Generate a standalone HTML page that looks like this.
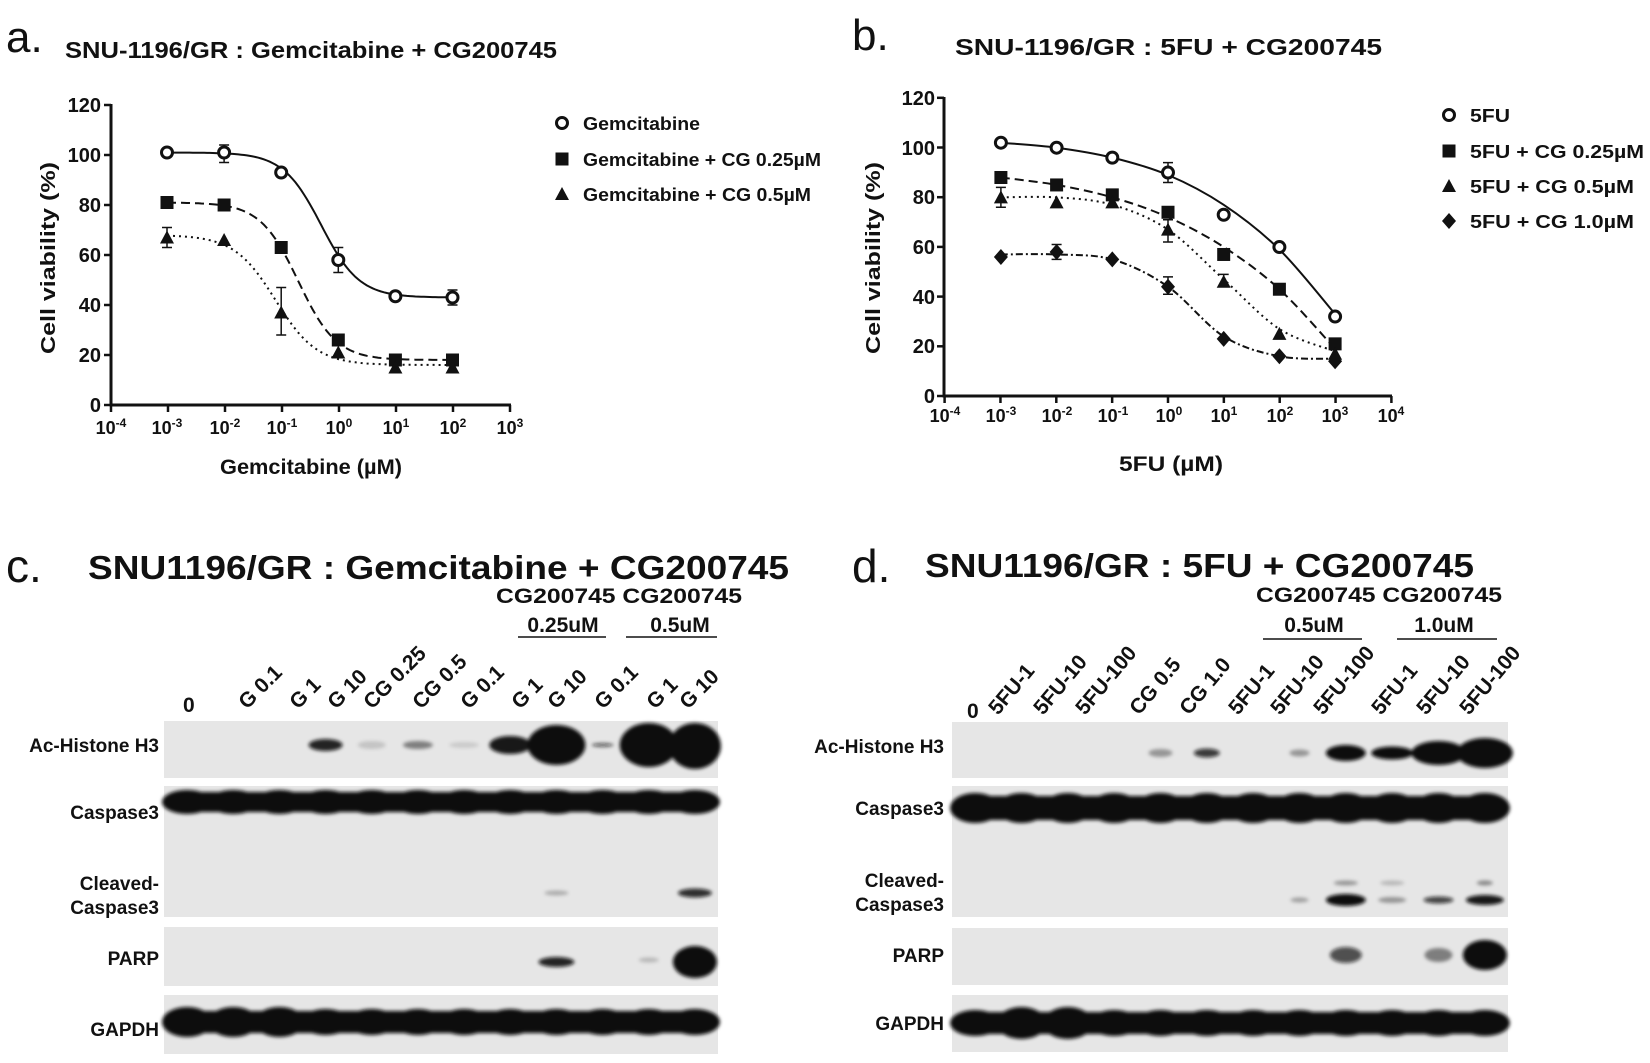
<!DOCTYPE html>
<html><head><meta charset="utf-8"><style>
html,body{margin:0;padding:0;background:#fff}
svg{display:block}
.b{font-family:"Liberation Sans Narrow","Liberation Sans",sans-serif;font-weight:bold;fill:#111}
.w{font-family:"Liberation Sans",sans-serif;font-weight:bold;fill:#111}
.L{font-family:"Liberation Sans",sans-serif;font-weight:normal;fill:#111}
</style></head><body>
<svg id="s" width="1650" height="1063" viewBox="0 0 1650 1063" xmlns="http://www.w3.org/2000/svg">
<defs><filter id="bl" x="-50%" y="-50%" width="200%" height="200%"><feGaussianBlur stdDeviation="1.8"/></filter></defs>
<!-- Panel a -->
<text class="L" x="6" y="52" font-size="44">a.</text>
<text class="b" x="65" y="58" font-size="23" textLength="492" lengthAdjust="spacingAndGlyphs">SNU-1196/GR : Gemcitabine + CG200745</text>
<g stroke="#111" stroke-width="3" fill="none">
<path d="M111,104 V405 H511"/>
</g>
<g id="ga"></g>
<g class="b" font-size="20" text-anchor="end">
<text x="101" y="112">120</text><text x="101" y="162">100</text><text x="101" y="212">80</text><text x="101" y="262">60</text><text x="101" y="312">40</text><text x="101" y="362">20</text><text x="101" y="412">0</text>
</g>
<g class="b" font-size="18" text-anchor="middle">
<text x="111" y="434">10<tspan dy="-7" font-size="12">-4</tspan></text>
<text x="167" y="434">10<tspan dy="-7" font-size="12">-3</tspan></text>
<text x="225" y="434">10<tspan dy="-7" font-size="12">-2</tspan></text>
<text x="282" y="434">10<tspan dy="-7" font-size="12">-1</tspan></text>
<text x="339" y="434">10<tspan dy="-7" font-size="12">0</tspan></text>
<text x="396" y="434">10<tspan dy="-7" font-size="12">1</tspan></text>
<text x="453" y="434">10<tspan dy="-7" font-size="12">2</tspan></text>
<text x="510" y="434">10<tspan dy="-7" font-size="12">3</tspan></text>
</g>
<text class="w" font-size="20" text-anchor="middle" transform="translate(55,258) rotate(-90)" textLength="192" lengthAdjust="spacingAndGlyphs">Cell viability (%)</text>
<text class="b" x="311" y="474" font-size="21" text-anchor="middle" textLength="182" lengthAdjust="spacingAndGlyphs">Gemcitabine (µM)</text>
<g class="b" font-size="18">
<text x="583" y="130" textLength="117" lengthAdjust="spacingAndGlyphs">Gemcitabine</text>
<text x="583" y="166" textLength="238" lengthAdjust="spacingAndGlyphs">Gemcitabine + CG 0.25µM</text>
<text x="583" y="201" textLength="228" lengthAdjust="spacingAndGlyphs">Gemcitabine + CG 0.5µM</text>
</g>
<!-- Panel b -->
<text class="L" x="852" y="50" font-size="44">b.</text>
<text class="b" x="955" y="55" font-size="23" textLength="427" lengthAdjust="spacingAndGlyphs">SNU-1196/GR : 5FU + CG200745</text>
<g stroke="#111" stroke-width="3" fill="none"><path d="M944,97 V396 H1392"/></g>
<g id="gb"></g>
<g class="b" font-size="20" text-anchor="end">
<text x="935" y="105">120</text><text x="935" y="155">100</text><text x="935" y="204">80</text><text x="935" y="254">60</text><text x="935" y="304">40</text><text x="935" y="353">20</text><text x="935" y="403">0</text>
</g>
<g class="b" font-size="18" text-anchor="middle">
<text x="945" y="422">10<tspan dy="-7" font-size="12">-4</tspan></text>
<text x="1001" y="422">10<tspan dy="-7" font-size="12">-3</tspan></text>
<text x="1057" y="422">10<tspan dy="-7" font-size="12">-2</tspan></text>
<text x="1113" y="422">10<tspan dy="-7" font-size="12">-1</tspan></text>
<text x="1169" y="422">10<tspan dy="-7" font-size="12">0</tspan></text>
<text x="1224" y="422">10<tspan dy="-7" font-size="12">1</tspan></text>
<text x="1280" y="422">10<tspan dy="-7" font-size="12">2</tspan></text>
<text x="1335" y="422">10<tspan dy="-7" font-size="12">3</tspan></text>
<text x="1391" y="422">10<tspan dy="-7" font-size="12">4</tspan></text>
</g>
<text class="w" font-size="20" text-anchor="middle" transform="translate(880,258) rotate(-90)" textLength="192" lengthAdjust="spacingAndGlyphs">Cell viability (%)</text>
<text class="b" x="1171" y="471" font-size="21" text-anchor="middle" textLength="104" lengthAdjust="spacingAndGlyphs">5FU (µM)</text>
<g class="b" font-size="18">
<text x="1470" y="122" textLength="40" lengthAdjust="spacingAndGlyphs">5FU</text>
<text x="1470" y="158" textLength="174" lengthAdjust="spacingAndGlyphs">5FU + CG 0.25µM</text>
<text x="1470" y="193" textLength="164" lengthAdjust="spacingAndGlyphs">5FU + CG 0.5µM</text>
<text x="1470" y="228" textLength="164" lengthAdjust="spacingAndGlyphs">5FU + CG 1.0µM</text>
</g>
<!-- Panel c -->
<text class="L" x="6" y="582" font-size="46">c.</text>
<text class="w" x="88" y="579" font-size="33" textLength="701" lengthAdjust="spacingAndGlyphs">SNU1196/GR : Gemcitabine + CG200745</text>
<text class="b" x="496" y="603" font-size="21" textLength="246" lengthAdjust="spacingAndGlyphs">CG200745 CG200745</text>
<text class="b" x="563" y="632" font-size="21" text-anchor="middle">0.25uM</text>
<text class="b" x="680" y="632" font-size="21" text-anchor="middle">0.5uM</text>
<path d="M518,637 H606 M626,637 H717" stroke="#111" stroke-width="1.5"/>
<g class="b" font-size="21">
<text x="183" y="712">0</text>
<text transform="translate(247,710) rotate(-45)">G 0.1</text>
<text transform="translate(298,710) rotate(-45)">G 1</text>
<text transform="translate(336,710) rotate(-45)">G 10</text>
<text transform="translate(372,710) rotate(-45)">CG 0.25</text>
<text transform="translate(421,710) rotate(-45)">CG 0.5</text>
<text transform="translate(469,710) rotate(-45)">G 0.1</text>
<text transform="translate(520,710) rotate(-45)">G 1</text>
<text transform="translate(556,710) rotate(-45)">G 10</text>
<text transform="translate(603,710) rotate(-45)">G 0.1</text>
<text transform="translate(655,710) rotate(-45)">G 1</text>
<text transform="translate(688,710) rotate(-45)">G 10</text>
</g>
<g class="b" font-size="19" text-anchor="end">
<text x="159" y="752">Ac-Histone H3</text>
<text x="159" y="819">Caspase3</text>
<text x="159" y="890">Cleaved-</text>
<text x="159" y="914">Caspase3</text>
<text x="159" y="965">PARP</text>
<text x="159" y="1036">GAPDH</text>
</g>
<g id="gc"></g>
<!-- Panel d -->
<text class="L" x="852" y="582" font-size="46">d.</text>
<text class="w" x="925" y="577" font-size="33" textLength="549" lengthAdjust="spacingAndGlyphs">SNU1196/GR : 5FU + CG200745</text>
<text class="b" x="1256" y="602" font-size="21" textLength="246" lengthAdjust="spacingAndGlyphs">CG200745 CG200745</text>
<text class="b" x="1314" y="632" font-size="21" text-anchor="middle">0.5uM</text>
<text class="b" x="1444" y="632" font-size="21" text-anchor="middle">1.0uM</text>
<path d="M1263,639 H1362 M1397,639 H1497" stroke="#111" stroke-width="1.5"/>
<g class="b" font-size="21">
<text x="967" y="718">0</text>
<text transform="translate(998,716) rotate(-50)">5FU-1</text>
<text transform="translate(1043,716) rotate(-50)">5FU-10</text>
<text transform="translate(1085,716) rotate(-50)">5FU-100</text>
<text transform="translate(1139,716) rotate(-50)">CG 0.5</text>
<text transform="translate(1189,716) rotate(-50)">CG 1.0</text>
<text transform="translate(1238,716) rotate(-50)">5FU-1</text>
<text transform="translate(1280,716) rotate(-50)">5FU-10</text>
<text transform="translate(1323,716) rotate(-50)">5FU-100</text>
<text transform="translate(1381,716) rotate(-50)">5FU-1</text>
<text transform="translate(1426,716) rotate(-50)">5FU-10</text>
<text transform="translate(1469,716) rotate(-50)">5FU-100</text>
</g>
<g class="b" font-size="19" text-anchor="end">
<text x="944" y="753">Ac-Histone H3</text>
<text x="944" y="815">Caspase3</text>
<text x="944" y="887">Cleaved-</text>
<text x="944" y="911">Caspase3</text>
<text x="944" y="962">PARP</text>
<text x="944" y="1030">GAPDH</text>
</g>
<g id="gd"></g>
</svg>
<script>
var NS="http://www.w3.org/2000/svg";
function el(p,t,a){var e=document.createElementNS(NS,t);for(var k in a)e.setAttribute(k,a[k]);p.appendChild(e);return e;}
function marker(g,type,x,y){
 if(type=="o")el(g,"circle",{cx:x,cy:y,r:5.5,fill:"#fff",stroke:"#111","stroke-width":3});
 else if(type=="s")el(g,"rect",{x:x-6.5,y:y-6.5,width:13,height:13,fill:"#111"});
 else if(type=="t")el(g,"path",{d:"M"+x+","+(y-7)+" L"+(x+7)+","+(y+6)+" L"+(x-7)+","+(y+6)+"Z",fill:"#111"});
 else el(g,"path",{d:"M"+x+","+(y-8)+" L"+(x+7)+","+y+" L"+x+","+(y+8)+" L"+(x-7)+","+y+"Z",fill:"#111"});
}
function err(g,x,y1,y2){el(g,"path",{d:"M"+x+","+y1+"V"+y2+"M"+(x-5)+","+y1+"H"+(x+5)+"M"+(x-5)+","+y2+"H"+(x+5),stroke:"#111","stroke-width":1.5,fill:"none"});}
var dash={o:"",s:"9,5",t:"2,4",d:"7,3,2,3"};
var ga=document.getElementById("ga");
function XA(l){return 167+(l+3)*57.1}function YA(v){return 405-v*2.5}
for(var i=0;i<8;i++){var x=111+i*57.0;el(ga,"line",{x1:x,y1:405,x2:x,y2:412,stroke:"#111","stroke-width":2.5});}
for(var i=0;i<7;i++){var y=405-i*50;el(ga,"line",{x1:104,y1:y,x2:111,y2:y,stroke:"#111","stroke-width":2.5});}
var fa=[["o",101,43,-0.3,1.3],["s",81,18,-0.7,1.3],["t",68,16,-1.1,1.2]];
fa.forEach(function(f){var d="";for(var l=-3;l<=2.001;l+=0.05){var v=f[2]+(f[1]-f[2])/(1+Math.pow(10,(l-f[3])*f[4]));d+=(d?"L":"M")+XA(l).toFixed(1)+","+YA(v).toFixed(1);}
 el(ga,"path",{d:d,fill:"none",stroke:"#111","stroke-width":2,"stroke-dasharray":dash[f[0]]});});
var da={o:[101,101,93,58,43.5,43],s:[81,80,63,26,18,18],t:[67,66,37,21,15,15]};
err(ga,XA(-3),YA(71),YA(63));err(ga,XA(-1),YA(47),YA(28));err(ga,XA(-2),YA(104),YA(97));err(ga,XA(0),YA(63),YA(53));err(ga,XA(2),YA(46),YA(40));
for(var k in da)da[k].forEach(function(v,i){marker(ga,k,XA(i-3),YA(v));});
marker(ga,"o",562,123);marker(ga,"s",562,159);marker(ga,"t",562,194);
var gb=document.getElementById("gb");
function XB(l){return 1000.9+(l+3)*55.7}function YB(v){return 396-v*2.483}
for(var i=0;i<9;i++){var x=944.6+i*55.85;el(gb,"line",{x1:x,y1:396,x2:x,y2:403,stroke:"#111","stroke-width":2.5});}
for(var i=0;i<7;i++){var y=396-i*49.7;el(gb,"line",{x1:937,y1:y,x2:944,y2:y,stroke:"#111","stroke-width":2.5});}
function cr(pts){var d="M"+pts[0][0]+","+pts[0][1];for(var i=0;i<pts.length-1;i++){var p0=pts[Math.max(0,i-1)],p1=pts[i],p2=pts[i+1],p3=pts[Math.min(pts.length-1,i+2)];
 d+="C"+(p1[0]+(p2[0]-p0[0])/6).toFixed(1)+","+(p1[1]+(p2[1]-p0[1])/6).toFixed(1)+" "+(p2[0]-(p3[0]-p1[0])/6).toFixed(1)+","+(p2[1]-(p3[1]-p1[1])/6).toFixed(1)+" "+p2[0].toFixed(1)+","+p2[1].toFixed(1);}return d;}
var cb={o:[102,100,96,89,77,59,33],s:[88,85,80,72,60,43,19],t:[80,80,77,67,47,27,18],d:[57,57,55,44,24,16,15]};
for(var k in cb){var pts=cb[k].map(function(v,i){return[XB(i-3),YB(v)]});el(gb,"path",{d:cr(pts),fill:"none",stroke:"#111","stroke-width":2,"stroke-dasharray":dash[k]});}
var db={o:[102,100,96,90,73,60,32],s:[88,85,81,74,57,43,21],t:[80,78,78,67,46,25,17],d:[56,58,55,44,23,16,14]};
err(gb,XB(0),YB(94),YB(86));err(gb,XB(-3),YB(84),YB(76));err(gb,XB(0),YB(71),YB(62));err(gb,XB(0),YB(48),YB(41));err(gb,XB(1),YB(49),YB(44));err(gb,XB(-2),YB(61),YB(55));
for(var k in db)db[k].forEach(function(v,i){marker(gb,k,XB(i-3),YB(v));});
marker(gb,"o",1449,115);marker(gb,"s",1449,151);marker(gb,"t",1449,186);marker(gb,"d",1449,221);
function blot(g,x0,x1,strips,bands,rows){var w=(x1-x0)/12;
 strips.forEach(function(s){el(g,"rect",{x:x0,y:s[0],width:x1-x0,height:s[1]-s[0],fill:"#e6e6e6"});});
 var bg=el(g,"g",{filter:"url(#bl)"});
 rows.forEach(function(r){el(bg,"rect",{x:x0+4,y:r[0]-r[1]/2,width:x1-x0-8,height:r[1],rx:r[1]/2,fill:"#0d0d0d"});});
 bands.forEach(function(b){el(bg,"ellipse",{cx:x0+w*(b[0]+0.5),cy:b[1],rx:b[2]/2,ry:b[3]/2,fill:"#0d0d0d","fill-opacity":b[4]});});}
var bc=[],bd=[];
for(var i=0;i<12;i++){bc.push([i,802,50,24,1]);bc.push([i,1022,50,i<3?30:26,1]);bd.push([i,808,50,30,1]);bd.push([i,1023,50,(i==1||i==2)?32:26,1]);}
bc=bc.concat([[3,745,34,12,.9],[4,745,28,8,.15],[5,745,30,8,.45],[6,745,30,6,.12],[7,745,42,18,.95],[8,745,58,40,1],[9,745,22,4,.6],[10,745,58,44,1],[11,746,52,46,1],
 [8,893,24,5,.25],[11,893,34,9,.85],[8,962,36,10,.9],[10,960,20,5,.2],[11,962,44,32,1]]);
bd=bd.concat([[4,753,24,8,.35],[5,753,26,9,.8],[7,753,20,7,.35],[8,753,40,16,1],[9,753,42,13,1],[10,753,54,24,1],[11,753,56,30,1],
 [8,883,24,5,.35],[9,883,24,5,.2],[11,883,16,5,.4],[7,900,18,5,.3],[8,900,40,12,1],[9,900,28,6,.35],[10,900,30,7,.75],[11,900,38,10,.95],
 [8,955,32,16,.7],[10,955,28,14,.45],[11,955,44,30,1]]);
blot(document.getElementById("gc"),164,718,[[721,778],[786,917],[927,986],[995,1054]],bc,[[802,20],[1022,22]]);
blot(document.getElementById("gd"),952,1508,[[722,778],[786,917],[928,985],[995,1052]],bd,[[808,24],[1023,22]]);
</script>
</body></html>
